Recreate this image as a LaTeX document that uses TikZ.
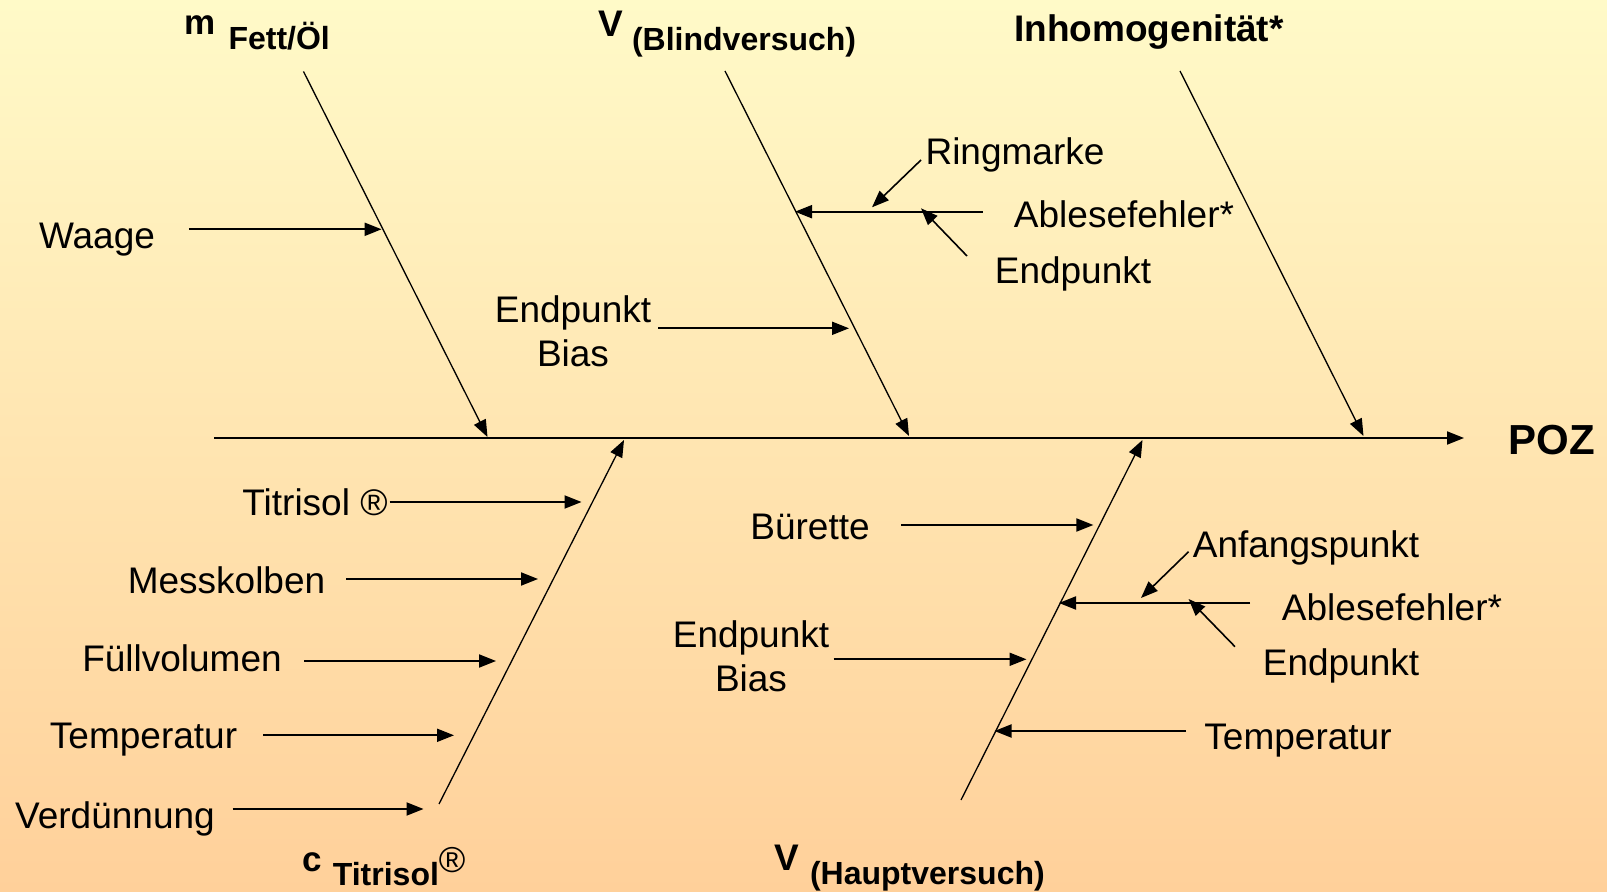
\documentclass[tikz,border=0pt]{standalone}
\usepackage{fontspec}
\setmainfont{Liberation Sans}
\usetikzlibrary{arrows.meta}
\definecolor{bgtop}{RGB}{255,250,200}
\definecolor{bgbot}{RGB}{255,208,154}
\begin{document}
\begin{tikzpicture}[x=0.5pt,y=-0.5pt,
  lbl/.style={font=\fontsize{18.5}{22}\selectfont, inner sep=0pt, anchor=base, yshift=-1.5pt},
  lbltwo/.style={lbl, align=center},
  head/.style={font=\fontsize{18.5}{22}\selectfont\bfseries, inner sep=0pt, anchor=base west},
  arr/.style={line width=1pt, -{Triangle[length=8.5pt,width=6.5pt]}},
  thinarr/.style={line width=0.8pt, -{Triangle[length=8.5pt,width=6.5pt]}},
  bone/.style={line width=0.65pt, -{Triangle[length=8.5pt,width=6.5pt]}},
  spine/.style={line width=1pt, -{Triangle[length=8.5pt,width=6.5pt]}}]
\shade[top color=bgtop, bottom color=bgbot] (0,0) rectangle (1607,892);
\useasboundingbox (0,0) rectangle (1607,892);

% ---- head / effect ----
\coordinate (sp0) at (214,438);
\coordinate (spE) at (1464,438);
\node[head, anchor=base, font=\fontsize{21}{24}\selectfont\bfseries] (poz) at (1552,455) {POZ};
\draw[spine] (sp0) -- (spE);

% ---- main bones ----
\coordinate (mA) at (303.5,71.5);  \coordinate (mB) at (487.5,437);
\coordinate (bA) at (725,71);      \coordinate (bB) at (909,436);
\coordinate (iA) at (1180,71);     \coordinate (iB) at (1363.5,436);
\coordinate (tA) at (439,804);     \coordinate (tB) at (624,440);
\coordinate (hA) at (961,800);     \coordinate (hB) at (1142.5,440);
\draw[bone] (mA) -- (mB);
\draw[bone] (bA) -- (bB);
\draw[bone] (iA) -- (iB);
\draw[bone] (tA) -- (tB);
\draw[bone] (hA) -- (hB);

% ---- bone titles ----
\node[head] (tm) at (184,35) {\fontsize{17.5}{19}\selectfont m\hspace{6.5pt}\raisebox{-7.5pt}{\fontsize{16}{19}\selectfont Fett/Öl}};
\node[head] (tb) at (598,37) {\fontsize{18.5}{19}\selectfont V\hspace{4.5pt}\raisebox{-7pt}{\fontsize{16}{19}\selectfont (Blindversuch)}};
\node[head, anchor=base] (ti) at (1149,42) {Inhomogenität*};
\node[head] (tt) at (302,871) {\fontsize{17.5}{19}\selectfont c\hspace{5.5pt}\raisebox{-7pt}{\fontsize{16}{19}\selectfont Titrisol}\raisebox{-0.5pt}{\mdseries\fontsize{18}{19}\selectfont ®}};
\node[head] (th) at (774,870) {\fontsize{18.5}{19}\selectfont V\hspace{5.5pt}\raisebox{-7pt}{\fontsize{16}{19}\selectfont (Hauptversuch)}};

% ---- m Fett/Oel ----
\node[lbl] (waage) at (97,246) {Waage};
\coordinate (waS) at (188.8,229.3); \coordinate (waE) at (381.6,229.3);
\draw[arr] (waS) -- (waE);

% ---- V Blindversuch ----
\node[lbltwo] (epb1) at (573,364) {Endpunkt\\Bias};
\coordinate (eb1S) at (658,328.3); \coordinate (eb1E) at (849,328.3);
\draw[arr] (eb1S) -- (eb1E);
\node[lbl] (ring) at (1015,162) {Ringmarke};
\node[lbl] (abl1) at (1124,225) {Ablesefehler*};
\node[lbl] (end1) at (1073,281) {Endpunkt};
\coordinate (ab1S) at (982.7,211.7); \coordinate (ab1E) at (795,211.7);
\draw[arr] (ab1S) -- (ab1E);
\coordinate (riS) at (921,160); \coordinate (riE) at (872,207.3);
\draw[thinarr] (riS) -- (riE);
\coordinate (en1S) at (967,256); \coordinate (en1E) at (921,208.3);
\draw[thinarr] (en1S) -- (en1E);

% ---- c Titrisol ----
\node[lbl] (titr) at (315,513) {Titrisol ®};
\node[lbl] (mess) at (226.5,591) {Messkolben};
\node[lbl] (fuell) at (182,669) {Füllvolumen};
\node[lbl] (temp1) at (143.5,745) {Temperatur};
\node[lbl] (verd) at (115,825) {Verdünnung};
\coordinate (tiS) at (389.5,502);   \coordinate (tiE) at (581.5,502);
\coordinate (meS) at (346.4,579);   \coordinate (meE) at (538,579);
\coordinate (fuS) at (304.4,661);   \coordinate (fuE) at (496,661);
\coordinate (teS) at (263.4,735.3); \coordinate (teE) at (454,735.3);
\coordinate (veS) at (232.7,809);   \coordinate (veE) at (423.5,809);
\draw[arr] (tiS) -- (tiE);
\draw[arr] (meS) -- (meE);
\draw[arr] (fuS) -- (fuE);
\draw[arr] (teS) -- (teE);
\draw[arr] (veS) -- (veE);

% ---- V Hauptversuch ----
\node[lbl] (buer) at (810,537) {Bürette};
\node[lbltwo] (epb2) at (751,689) {Endpunkt\\Bias};
\node[lbl] (anf) at (1306,555) {Anfangspunkt};
\node[lbl] (abl2) at (1392,618) {Ablesefehler*};
\node[lbl] (end2) at (1341,673) {Endpunkt};
\node[lbl] (temp2) at (1298,746) {Temperatur};
\coordinate (buS) at (901.4,525);   \coordinate (buE) at (1093.4,525);
\coordinate (eb2S) at (833.5,659.3); \coordinate (eb2E) at (1026.5,659.3);
\coordinate (ab2S) at (1250,603);   \coordinate (ab2E) at (1059,603);
\coordinate (anS) at (1188.6,551.7); \coordinate (anE) at (1141,598);
\coordinate (en2S) at (1235,646.7); \coordinate (en2E) at (1188.6,599);
\coordinate (te2S) at (1186,731);   \coordinate (te2E) at (994.5,731);
\draw[arr] (buS) -- (buE);
\draw[arr] (eb2S) -- (eb2E);
\draw[arr] (ab2S) -- (ab2E);
\draw[thinarr] (anS) -- (anE);
\draw[thinarr] (en2S) -- (en2E);
\draw[arr] (te2S) -- (te2E);
\end{tikzpicture}
\end{document}
